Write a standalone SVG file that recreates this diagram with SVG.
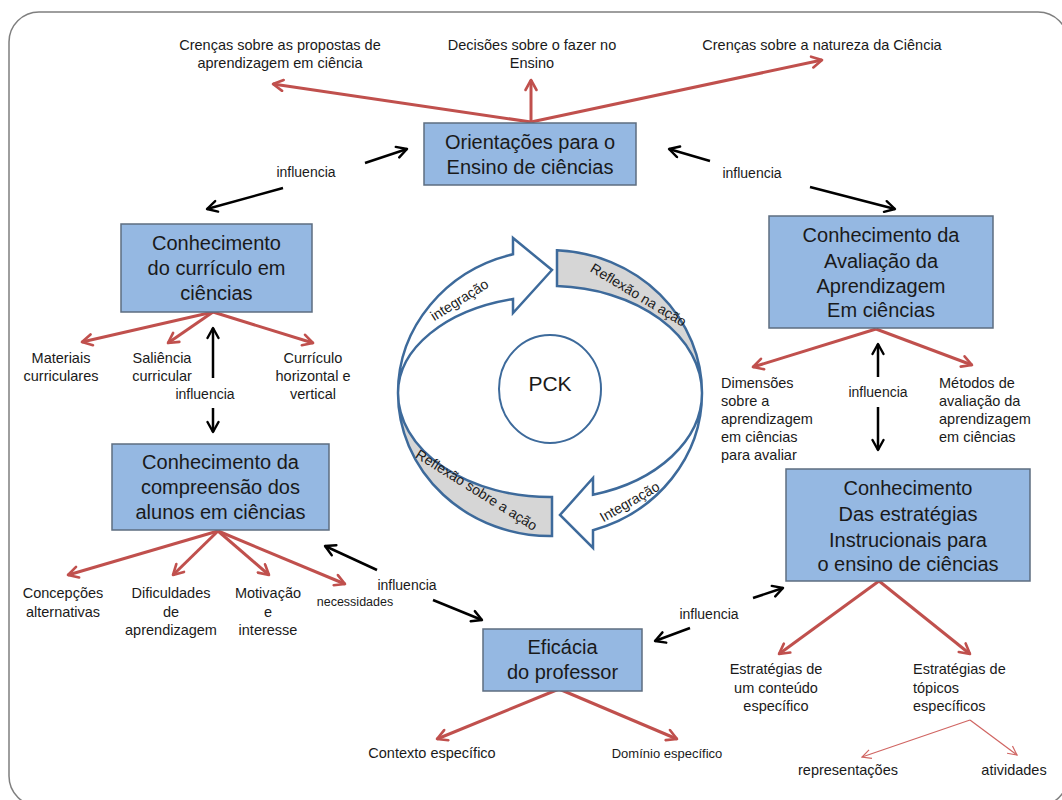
<svg xmlns="http://www.w3.org/2000/svg" width="1062" height="800" viewBox="0 0 1062 800">
<defs>
<style>
text{font-family:"Liberation Sans",Arial,sans-serif;fill:#1a1a1a}
.box{fill:#95b8e2;stroke:#5d6d80;stroke-width:1.5}
.bt{font-size:20px;text-anchor:middle}
.s{font-size:14.5px}
.c{text-anchor:middle}
.inf{font-size:14px;text-anchor:middle}
.red{stroke:#c0504d;stroke-width:3;fill:none;marker-end:url(#ra)}
.redt{stroke:#d06562;stroke-width:1.2;fill:none;marker-end:url(#rat)}
.blk{stroke:#000;stroke-width:2.5;fill:none;marker-end:url(#ba)}
.ring{stroke:#3d6a9b;stroke-width:2.5}
.rt{font-size:14px;text-anchor:middle}
</style>
<marker id="ra" viewBox="0 0 14 14" refX="12" refY="7" markerWidth="14" markerHeight="14" markerUnits="userSpaceOnUse" orient="auto">
<path d="M2,1.5 L12,7 L2,12.5" fill="none" stroke="#c0504d" stroke-width="2.6" stroke-linecap="round" stroke-linejoin="round"/>
</marker>
<marker id="rat" viewBox="0 0 12 12" refX="11" refY="6" markerWidth="12" markerHeight="12" markerUnits="userSpaceOnUse" orient="auto">
<path d="M2,1.5 L11,6 L2,10.5" fill="none" stroke="#d06562" stroke-width="1.2"/>
</marker>
<marker id="ba" viewBox="0 0 14 14" refX="12" refY="7" markerWidth="14" markerHeight="14" markerUnits="userSpaceOnUse" orient="auto">
<path d="M2,1.5 L12,7 L2,12.5" fill="none" stroke="#000" stroke-width="2.4" stroke-linecap="round" stroke-linejoin="round"/>
</marker>
</defs>
<rect x="0" y="0" width="1062" height="800" fill="#fff"/>
<rect x="9" y="12" width="1059" height="794" rx="30" fill="#fff" stroke="#7f7f7f" stroke-width="1.5"/>

<g id="connectors">
<path class="red" d="M531,122 L273,84"/>
<path class="red" d="M531,122 L531,80"/>
<path class="red" d="M531,122 L822,60"/>
<path class="red" d="M213,312 L82,342"/>
<path class="red" d="M213,312 L168,343"/>
<path class="red" d="M213,312 L313,343"/>
<path class="red" d="M876,329 L753,367"/>
<path class="red" d="M876,329 L972,365"/>
<path class="red" d="M218,531 L68,575"/>
<path class="red" d="M218,531 L173,575"/>
<path class="red" d="M218,531 L269,575"/>
<path class="red" d="M218,531 L345,584"/>
<path class="red" d="M879,581 L779,654"/>
<path class="red" d="M879,581 L970,654"/>
<path class="red" d="M559,689 L437,739"/>
<path class="red" d="M559,689 L677,739"/>
<path class="redt" d="M970,720 L862,757"/>
<path class="redt" d="M970,720 L1017,755"/>
<path class="blk" d="M365,163 L407,149"/>
<path class="blk" d="M283,188 L207,209"/>
<path class="blk" d="M710,161 L669,149"/>
<path class="blk" d="M810,187 L895,209"/>
<path class="blk" d="M213,378 L213,328"/>
<path class="blk" d="M213,408 L213,432"/>
<path class="blk" d="M878,377 L878,344"/>
<path class="blk" d="M878,407 L878,450"/>
<path class="blk" d="M377,570 L325,546"/>
<path class="blk" d="M433,600 L482,620"/>
<path class="blk" d="M753,598 L783,588"/>
<path class="blk" d="M690,628 L655,641"/>
<text class="inf" x="306" y="177">influencia</text>
<text class="inf" x="752" y="178">influencia</text>
<text class="inf" x="205" y="399">influencia</text>
<text class="inf" x="878" y="397">influencia</text>
<text class="inf" x="407" y="590">influencia</text>
<text class="inf" x="709" y="619">influencia</text>
</g>

<g id="labels">
<text class="s c" x="280" y="50">Crenças sobre as propostas de</text>
<text class="s c" x="280" y="68">aprendizagem em ciência</text>
<text class="s c" x="532" y="50">Decisões sobre o fazer no</text>
<text class="s c" x="532" y="68">Ensino</text>
<text class="s c" x="822" y="50">Crenças sobre a natureza da Ciência</text>
<text class="s c" x="61" y="363">Materiais</text>
<text class="s c" x="61" y="381">curriculares</text>
<text class="s c" x="162" y="363">Saliência</text>
<text class="s c" x="162" y="381">curricular</text>
<text class="s c" x="313" y="363">Currículo</text>
<text class="s c" x="313" y="381">horizontal e</text>
<text class="s c" x="313" y="399">vertical</text>
<text class="s" x="721" y="388">Dimensões</text>
<text class="s" x="721" y="406">sobre a</text>
<text class="s" x="721" y="424">aprendizagem</text>
<text class="s" x="721" y="442">em ciências</text>
<text class="s" x="721" y="460">para avaliar</text>
<text class="s" x="939" y="388">Métodos de</text>
<text class="s" x="939" y="406">avaliação da</text>
<text class="s" x="939" y="424">aprendizagem</text>
<text class="s" x="939" y="442">em ciências</text>
<text class="s c" x="63" y="598">Concepções</text>
<text class="s c" x="63" y="617">alternativas</text>
<text class="s c" x="171" y="598">Dificuldades</text>
<text class="s c" x="171" y="617">de</text>
<text class="s c" x="171" y="635">aprendizagem</text>
<text class="s c" x="268" y="598">Motivação</text>
<text class="s c" x="268" y="617">e</text>
<text class="s c" x="268" y="635">interesse</text>
<text class="c" x="355" y="606" font-size="12.5">necessidades</text>
<text class="s c" x="776" y="674">Estratégias de</text>
<text class="s c" x="776" y="693">um conteúdo</text>
<text class="s c" x="776" y="711">específico</text>
<text class="s" x="913" y="674">Estratégias de</text>
<text class="s" x="913" y="693">tópicos</text>
<text class="s" x="913" y="711">específicos</text>
<text class="s c" x="848" y="775">representações</text>
<text class="s c" x="1014" y="775">atividades</text>
<text class="s c" x="432" y="758">Contexto específico</text>
<text class="c" x="667" y="758" font-size="13">Domínio específico</text>
</g>

<g id="node-orientacoes">
<rect class="box" x="424" y="123" width="212" height="62"/>
<text class="bt" x="530" y="149">Orientações para o</text>
<text class="bt" x="530" y="174">Ensino de ciências</text>
</g>
<g id="node-curriculo">
<rect class="box" x="121" y="224" width="191" height="88"/>
<text class="bt" x="216.5" y="250">Conhecimento</text>
<text class="bt" x="216.5" y="275">do currículo em</text>
<text class="bt" x="216.5" y="300">ciências</text>
</g>
<g id="node-avaliacao">
<rect class="box" x="769" y="216" width="224" height="112"/>
<text class="bt" x="881" y="242">Conhecimento da</text>
<text class="bt" x="881" y="268">Avaliação da</text>
<text class="bt" x="881" y="293">Aprendizagem</text>
<text class="bt" x="881" y="317">Em ciências</text>
</g>
<g id="node-compreensao">
<rect class="box" x="112" y="444" width="217" height="86"/>
<text class="bt" x="220.5" y="469">Conhecimento da</text>
<text class="bt" x="220.5" y="494">compreensão dos</text>
<text class="bt" x="220.5" y="519">alunos em ciências</text>
</g>
<g id="node-estrategias">
<rect class="box" x="786" y="469" width="244" height="112"/>
<text class="bt" x="908" y="495">Conhecimento</text>
<text class="bt" x="908" y="521">Das estratégias</text>
<text class="bt" x="908" y="547">Instrucionais para</text>
<text class="bt" x="908" y="571">o ensino de ciências</text>
</g>
<g id="node-eficacia">
<rect class="box" x="483" y="629" width="159" height="62"/>
<text class="bt" x="562.5" y="654">Eficácia</text>
<text class="bt" x="562.5" y="679">do professor</text>
</g>

<g id="node-cycle">
<path class="ring" fill="#fff" d="M398,393 A152,143 0 0 1 513,254.3 L513,238 L552,270 L513,313 L513,299 A152,97 0 0 0 398,393 Z"/>
<path class="ring" fill="#d6d6d6" d="M557,250.2 A152,143 0 0 1 702,393 A152,107 0 0 0 557,286.1 Z"/>
<path class="ring" fill="#d6d6d6" d="M398,393 A152,143 0 0 0 552,536 L552,497 A152,104 0 0 1 398,393 Z"/>
<path class="ring" fill="#fff" d="M702,393 A152,143 0 0 1 593,530.2 L593,548 L560,515 L593,478 L593,494.7 A152,106 0 0 0 702,393 Z"/>
<text class="rt" transform="translate(462,304) rotate(-32)">integração</text>
<text class="rt" transform="translate(636,299) rotate(31)">Reflexão na ação</text>
<text class="rt" transform="translate(474,494) rotate(32)">Reflexão sobre a ação</text>
<text class="rt" transform="translate(632,506) rotate(-30)">Integração</text>
</g>
<g id="node-pck">
<ellipse cx="550" cy="389" rx="51" ry="54" fill="#fff" stroke="#3d6a9b" stroke-width="2"/>
<text x="550" y="391" font-size="21" text-anchor="middle">PCK</text>
</g>
</svg>
